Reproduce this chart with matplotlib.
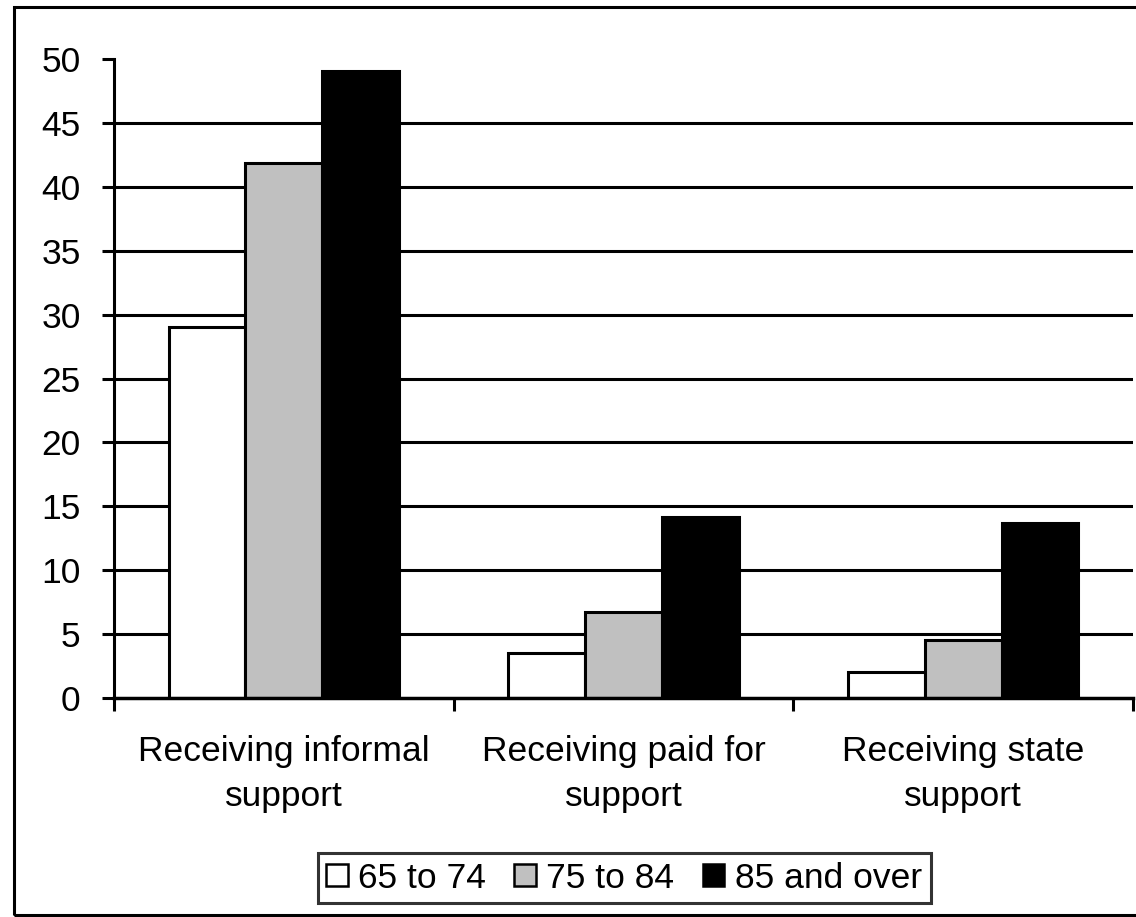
import matplotlib

matplotlib.use("Agg")
import matplotlib.pyplot as plt
import numpy as np
from matplotlib.patches import Rectangle

categories = ["Receiving informal\nsupport", "Receiving paid for\nsupport", "Receiving state\nsupport"]
age_groups = ["65 to 74", "75 to 84", "85 and over"]
age_65_74 = [29.0, 3.5, 2.0]
age_75_84 = [41.9, 6.7, 4.5]
age_85_over = [49.1, 14.2, 13.7]
colors = ["white", "#c0c0c0", "black"]

plt.rcParams["font.family"] = ["Liberation Sans", "DejaVu Sans"]
plt.rcParams["font.size"] = 25.5

W, H = 1136, 917
fig = plt.figure(figsize=(W / 100, H / 100), dpi=100)
ax = fig.add_axes([114 / W, 1 - 698 / H, (1133 - 114) / W, (698 - 59) / H])

x = np.arange(len(categories))
width = 0.226
series = [age_65_74, age_75_84, age_85_over]
for i, (vals, lab, col) in enumerate(zip(series, age_groups, colors)):
    ax.bar(x + (i - 1) * width, vals, width, color=col, edgecolor="black",
           linewidth=2.2, label=lab, zorder=3)

ax.set_xlim(-0.5, 2.5)
ax.set_ylim(0, 50)
ax.set_yticks(np.arange(0, 51, 5))
ax.yaxis.grid(True, color="black", linewidth=2.2, zorder=0)
ax.get_ygridlines()[-1].set_visible(False)
ax.get_ygridlines()[0].set_visible(False)

# category boundaries carry the x ticks, labels sit at group centres
ax.set_xticks([-0.5, 0.5, 1.5, 2.5])
ax.set_xticklabels([])
ax.set_xticks(x, minor=True)
ax.set_xticklabels(categories, minor=True, linespacing=1.45)
ax.tick_params(axis="x", which="minor", length=0, pad=27)
ax.tick_params(axis="x", which="major", length=9, width=2.2, direction="out")
ax.tick_params(axis="y", length=9, width=2.2, direction="out", pad=15)

for side in ["top", "right"]:
    ax.spines[side].set_visible(False)
ax.spines["left"].set_linewidth(2.2)
ax.spines["bottom"].set_linewidth(2.5)
ax.spines["bottom"].set_zorder(4)

leg = fig.legend(loc="center", bbox_to_anchor=((320 + 928) / 2 / W, 1 - 878 / H),
                 ncol=3, frameon=True, fancybox=False, edgecolor="black",
                 handlelength=0.6, handleheight=0.6, handletextpad=0.3,
                 columnspacing=0.8, borderpad=0.25, fontsize=25.5)
leg.get_frame().set_linewidth(2.2)
for h in leg.legend_handles:
    h.set_linewidth(1.8)

# outer chart border
fig.patches.append(Rectangle((14 / W, 1 - 915 / H), 1.0, (915 - 7) / H,
                             transform=fig.transFigure, fill=False,
                             edgecolor="black", linewidth=2.2))

fig.savefig("out.png", dpi=100)
